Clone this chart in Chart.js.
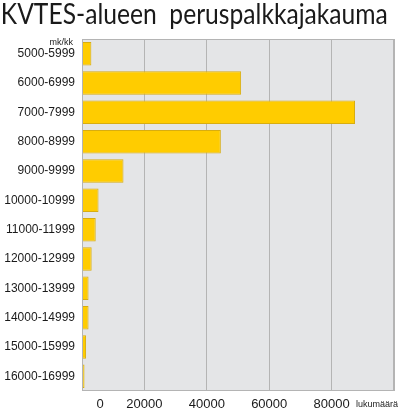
<!DOCTYPE html>
<html>
<head>
<meta charset="utf-8">
<script src="https://cdn.jsdelivr.net/npm/chart.js@4"></script>
<style>
html,body{margin:0;padding:0;background:#fff;}
#wrap{width:400px;height:409px;position:relative;}
</style>
</head>
<body>
<div id="wrap"><canvas id="c" width="400" height="409"></canvas></div>
<script>
const title = "KVTES-alueen  peruspalkkajakauma";
const yUnit = "mk/kk";
const xUnit = "lukumäärä";
const categories = ["5000-5999","6000-6999","7000-7999","8000-8999","9000-9999","10000-10999","11000-11999","12000-12999","13000-13999","14000-14999","15000-15999","16000-16999"];
const counts = [3000, 51000, 87500, 44500, 13300, 5300, 4400, 3100, 2100, 2100, 1300, 800];
const xTicks = [0, 20000, 40000, 60000, 80000];

const decor = {
  id: 'decor',
  beforeDraw(chart) {
    const {ctx, chartArea: a} = chart;
    ctx.save();
    ctx.fillStyle = '#e4e5e7';
    ctx.fillRect(a.left, a.top, a.right - a.left, a.bottom - a.top);
    ctx.restore();
  },
  afterDraw(chart) {
    const {ctx, chartArea: a, scales} = chart;
    ctx.save();
    ctx.strokeStyle = '#b4b4b4';
    ctx.lineWidth = 1;
    ctx.strokeRect(a.left + 0.5, a.top + 0.5, a.right - a.left - 1, a.bottom - a.top - 1);
    // title, fitted to the reference width
    ctx.fillStyle = '#1a1a1a';
    ctx.font = '29px Lato';
    ctx.textBaseline = 'alphabetic';
    ctx.textAlign = 'left';
    const w = ctx.measureText(title).width;
    ctx.save();
    ctx.scale(387 / w, 1);
    ctx.fillText(title, 1, 24);
    ctx.restore();
    // unit labels
    ctx.font = '9px "Liberation Sans"';
    ctx.textAlign = 'right';
    ctx.fillStyle = '#222';
    ctx.fillText(yUnit, a.left - 9, 45);
    ctx.textAlign = 'left';
    ctx.fillText(xUnit, 356, 407);
    // zero label (offset as in the reference)
    ctx.font = '13px "Liberation Sans"';
    ctx.textAlign = 'center';
    ctx.textBaseline = 'middle';
    ctx.fillText(String(xTicks[0]), scales.x.getPixelForValue(xTicks[0]) + 18, 404);
    ctx.restore();
  }
};

new Chart(document.getElementById('c'), {
  type: 'bar',
  data: {
    labels: categories,
    datasets: [{
      data: counts,
      backgroundColor: '#ffcc00',
      borderColor: '#d8ad10',
      borderWidth: 1,
      categoryPercentage: 0.8,
      barPercentage: 1.0
    }]
  },
  options: {
    indexAxis: 'y',
    responsive: false,
    animation: false,
    devicePixelRatio: 1,
    layout: { padding: { top: 39, right: 3, left: 0, bottom: 0 } },
    plugins: { legend: { display: false }, title: { display: false }, tooltip: { enabled: false } },
    scales: {
      x: {
        min: 0, max: 100000,
        afterFit(s) { s.height = 18; },
        afterBuildTicks(s) { s.ticks = [0,20000,40000,60000,80000,100000].map(v => ({value: v})); },
        grid: { color: '#b4b4b4', drawTicks: false, lineWidth: 1 },
        border: { display: false },
        ticks: {
          padding: 6,
          maxRotation: 0,
          autoSkip: false,
          color: '#1a1a1a',
          font: { family: 'Liberation Sans', size: 13 },
          callback: (v) => (xTicks.includes(v) && v !== 0) ? String(v) : ''
        }
      },
      y: {
        afterFit(s) { s.width = 82; },
        grid: { display: false, drawTicks: false },
        border: { display: false },
        ticks: {
          padding: 7,
          color: '#1a1a1a',
          font: { family: 'Liberation Sans', size: 12 },
          autoSkip: false
        }
      }
    }
  },
  plugins: [decor]
});
</script>
</body>
</html>
